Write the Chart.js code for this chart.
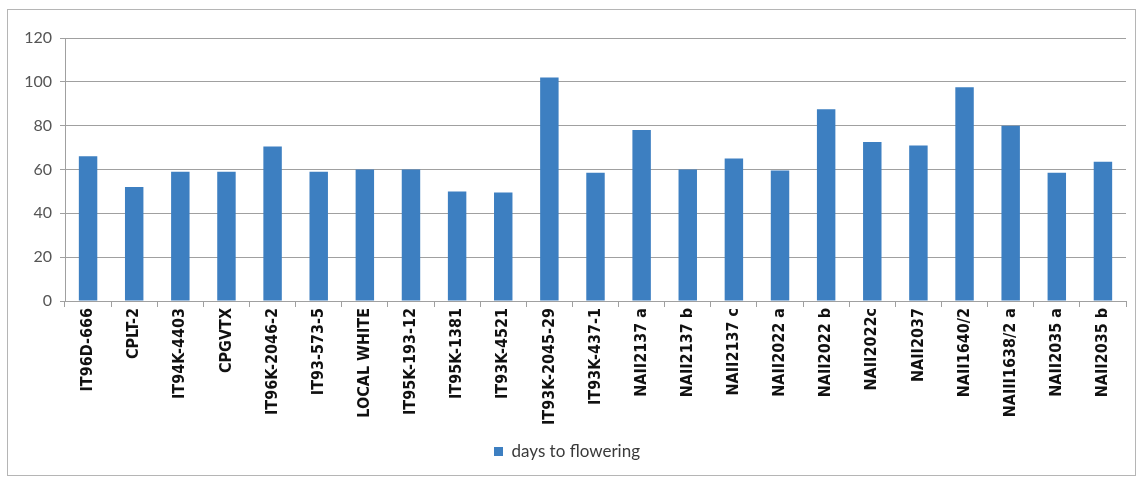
<!DOCTYPE html>
<html>
<head>
<meta charset="utf-8">
<script src="https://cdn.jsdelivr.net/npm/chart.js@4/dist/chart.umd.min.js"></script>
<style>
  html, body { margin: 0; padding: 0; background: #ffffff; }
  #frame {
    position: absolute; left: 7px; top: 9px;
    width: 1127px; height: 465px;
    border: 1px solid #b5b5b5;
    background: #ffffff;
  }
  #frame canvas { display: block; }
</style>
</head>
<body>
<div id="frame"><canvas id="chart" width="1127" height="465"></canvas></div>
<script>
// Cowpea genotypes and their days to flowering
const genotypes = [
  "IT96D-666", "CPLT-2", "IT94K-4403", "CPGVTX", "IT96K-2046-2",
  "IT93-573-5", "LOCAL WHITE", "IT95K-193-12", "IT95K-1381", "IT93K-4521",
  "IT93K-2045-29", "IT93K-437-1", "NAII2137 a", "NAII2137 b", "NAII2137 c",
  "NAII2022 a", "NAII2022 b", "NAII2022c", "NAII2037", "NAII1640/2",
  "NAIII1638/2 a", "NAII2035 a", "NAII2035 b"
];
const daysToFlowering = [
  66, 52, 59, 59, 70.5,
  59, 60, 60, 50, 49.5,
  102, 58.5, 78, 60, 65,
  59.5, 87.5, 72.5, 71, 97.5,
  80, 58.5, 63.5
];
const seriesName = "days to flowering";
const yTicks = { min: 0, max: 120, step: 20 };

const gridGrey = "#a0a0a0";

new Chart(document.getElementById("chart"), {
  type: "bar",
  data: {
    labels: genotypes,
    datasets: [{
      label: seriesName,
      data: daysToFlowering,
      backgroundColor: "#3d7fc1",
      borderWidth: 0,
      categoryPercentage: 1.0,
      barPercentage: 0.4
    }]
  },
  options: {
    responsive: false,
    animation: false,
    devicePixelRatio: 1,
    layout: { padding: { left: 0, right: 9, top: 28, bottom: 5 } },
    scales: {
      x: {
        grid: {
          display: true,
          offset: true,
          drawOnChartArea: false,
          drawTicks: true,
          tickLength: 6,
          color: gridGrey,
          lineWidth: 1
        },
        border: { display: true, color: gridGrey, width: 1 },
        ticks: {
          autoSkip: false,
          minRotation: 90,
          maxRotation: 90,
          padding: 1,
          color: "#111111",
          font: { family: "'Liberation Sans Narrow', 'DejaVu Sans Condensed', sans-serif", size: 16, weight: "bold" }
        },
        afterFit: (scale) => { scale.height = 132; }
      },
      y: {
        min: yTicks.min,
        max: yTicks.max,
        grid: {
          color: gridGrey,
          lineWidth: 1,
          drawTicks: true,
          tickLength: 5
        },
        border: { display: true, color: gridGrey, width: 1 },
        ticks: {
          stepSize: yTicks.step,
          padding: 8,
          color: "#555555",
          font: { family: "Lato, sans-serif", size: 16 }
        },
        afterFit: (scale) => { scale.width = 57; }
      }
    },
    plugins: {
      legend: {
        display: true,
        position: "bottom",
        labels: {
          boxWidth: 9,
          boxHeight: 9,
          padding: 10,
          color: "#3a3a3a",
          font: { family: "Lato, sans-serif", size: 17 }
        }
      },
      tooltip: { enabled: false }
    }
  }
});
</script>
</body>
</html>
